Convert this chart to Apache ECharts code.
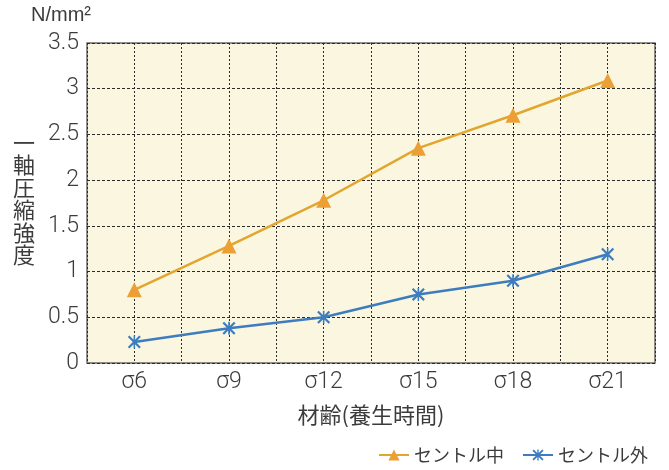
<!DOCTYPE html>
<html><head><meta charset="utf-8">
<script src="https://cdn.jsdelivr.net/npm/echarts@6/dist/echarts.min.js"></script>
<style>html,body{margin:0;padding:0;background:#fff}#c{width:669px;height:470px}</style>
</head><body><div id="c"></div>
<script>
const categories = ['σ6','σ9','σ12','σ15','σ18','σ21'];
const centerValues = [0.80, 1.28, 1.78, 2.35, 2.71, 3.09];
const outerValues = [0.23, 0.38, 0.50, 0.75, 0.90, 1.19];
const seriesNames = ['セントル中','セントル外'];
const yTicks = [0, 0.5, 1, 1.5, 2, 2.5, 3, 3.5];

const JP = '"Noto Sans CJK JP", "Noto Sans", sans-serif';
const NUM = 'Roboto, "Liberation Sans", sans-serif';
const TXT = '#3c3c3c';
const asterisk = 'path://M0,1.2 L1.2,0 L5,3.8 L8.8,0 L10,1.2 L6.2,5 L10,8.8 L8.8,10 L5,6.2 L1.2,10 L0,8.8 L3.8,5 Z M4.4,0 L5.6,0 L5.6,10 L4.4,10 Z';

const chart = echarts.init(document.getElementById('c'));
chart.setOption({
  backgroundColor: '#ffffff',
  textStyle: { fontFamily: JP },
  grid: { left: 87, top: 43, right: 14, bottom: 107, show: true,
          backgroundColor: '#faf6e0', borderColor: '#6a6a6a', borderWidth: 1.5 },
  xAxis: [{
    type: 'category', data: categories, boundaryGap: true,
    axisLine: { show: false }, axisTick: { show: false },
    axisLabel: { color: TXT, fontSize: 23, fontWeight: 300, margin: 8, fontFamily: NUM },
    splitLine: { show: false },
    name: '材齢(養生時間)', nameLocation: 'middle', nameGap: 41,
    nameTextStyle: { color: TXT, fontSize: 22, fontFamily: JP }
  }, {
    type: 'value', min: 0, max: 12, interval: 1, position: 'bottom',
    axisLine: { show: false }, axisTick: { show: false }, axisLabel: { show: false },
    splitLine: { show: true, lineStyle: { color: '#2a2a2a', type: [2, 2], width: 1 } }
  }],
  yAxis: {
    type: 'value', min: yTicks[0], max: yTicks[yTicks.length - 1], interval: 0.5,
    axisLine: { show: false }, axisTick: { show: false },
    axisLabel: { color: TXT, fontSize: 23, fontWeight: 300, margin: 8, fontFamily: NUM },
    splitLine: { show: true, lineStyle: { color: '#2a2a2a', type: [3, 2], width: 1 } }
  },
  legend: {
    right: 16, top: 441, itemGap: 18, itemWidth: 30, itemHeight: 14,
    textStyle: { color: TXT, fontSize: 18, fontFamily: JP },
    data: seriesNames
  },
  graphic: [
    { type: 'text', left: 31, top: 5, style: { text: 'N/mm²', fill: TXT, font: '20px "Liberation Sans", sans-serif' } },
    { type: 'text', left: 13, top: 131, style: { text: '一\n軸\n圧\n縮\n強\n度', fill: TXT, font: '22px ' + JP, lineHeight: 22.5 } }
  ],
  series: [{
    name: seriesNames[0], type: 'line', data: centerValues,
    symbol: 'triangle', symbolSize: 15,
    lineStyle: { color: '#e2a62e', width: 2.5 },
    itemStyle: { color: '#eb9f35' }
  }, {
    name: seriesNames[1], type: 'line', data: outerValues,
    symbol: asterisk, symbolSize: 13,
    lineStyle: { color: '#3d7cbf', width: 2.5 },
    itemStyle: { color: '#3d7cbf' }
  }]
});
</script></body></html>
